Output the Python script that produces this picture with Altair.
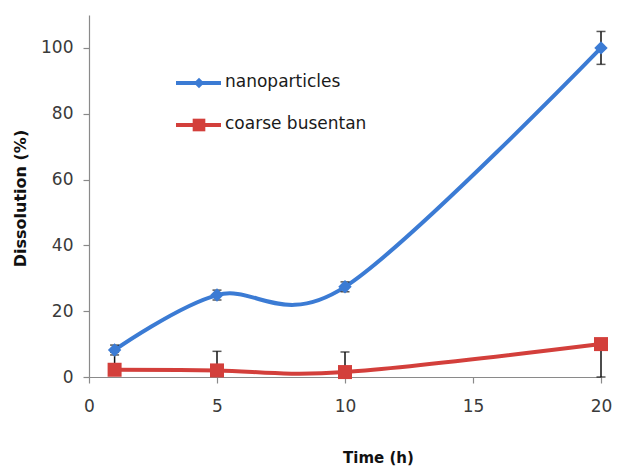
import altair as alt
import pandas as pd

# ---- data ----
time_h = [1, 5, 10, 20]
series_names = ["nanoparticles", "coarse busentan"]
nano_vals = [8.2, 24.9, 27.4, 100]
nano_err_lo = [6.7, 23.4, 25.9, 95]
nano_err_hi = [9.7, 26.4, 28.9, 105]
coarse_vals = [2.2, 2.0, 1.5, 10]
coarse_err_lo = [2.2, 2.0, 1.5, 0]
coarse_err_hi = [7.5, 7.8, 7.6, 10]
x_ticks = [0, 5, 10, 15, 20]
y_ticks = [0, 20, 40, 60, 80, 100]

colors = ["#3B7BD4", "#D33F3B"]
shapes = ["diamond", "square"]

rows = []
for i, t in enumerate(time_h):
    rows.append(dict(time=t, series=series_names[0], value=nano_vals[i],
                     lo=nano_err_lo[i], hi=nano_err_hi[i]))
for i, t in enumerate(time_h):
    rows.append(dict(time=t, series=series_names[1], value=coarse_vals[i],
                     lo=coarse_err_lo[i], hi=coarse_err_hi[i]))
df = pd.DataFrame(rows)

caps = []
for r in rows:
    if r["hi"] > r["value"]:
        caps.append(dict(time=r["time"], series=r["series"], cap=r["hi"]))
    if r["lo"] < r["value"]:
        caps.append(dict(time=r["time"], series=r["series"], cap=r["lo"]))
caps_df = pd.DataFrame(caps)

FONT = "DejaVu Sans"
AXC = "#8a8a8a"
xscale = alt.Scale(domain=[0, 20], nice=False, zero=False)
yscale = alt.Scale(domain=[0, 110], nice=False)
color_scale = alt.Scale(domain=series_names, range=colors)

common_axis = dict(grid=False, domainColor=AXC, tickColor=AXC, domainWidth=1.2,
                   tickWidth=1.2, tickSize=6, labelFont=FONT, labelFontSize=17,
                   labelColor="#3a3a3a", format="d", labelFlush=False,
                   labelOverlap=False)
x_axis = alt.Axis(values=x_ticks, title="Time (h)",
                  titleX=289, titleY=80, titleBaseline="middle",
                  titleFont=FONT, titleFontSize=15, titleFontWeight="bold",
                  titleColor="#111111", labelPadding=15, **common_axis)
y_axis = alt.Axis(values=y_ticks, title="Dissolution  (%)",
                  titleX=-69, titleY=183, titleBaseline="middle", titleAngle=270,
                  titleFont=FONT, titleFontSize=16, titleFontWeight="bold",
                  titleColor="#111111", labelPadding=10, **common_axis)

X = alt.X("time:Q", scale=xscale, axis=x_axis)
Y = alt.Y("value:Q", scale=yscale, axis=y_axis)

base = alt.Chart(df)

lines = base.mark_line(interpolate="cardinal", strokeWidth=4).encode(
    x=X, y=Y,
    color=alt.Color("series:N", scale=color_scale, legend=None),
    detail="series:N",
)

err_rules = base.mark_rule(color="#111111", strokeWidth=1.5).encode(
    x=alt.X("time:Q", scale=xscale),
    y=alt.Y("lo:Q", scale=yscale),
    y2="hi:Q",
)

err_caps = alt.Chart(caps_df).mark_tick(color="#111111", thickness=1.5, size=9,
                                        orient="horizontal").encode(
    x=alt.X("time:Q", scale=xscale),
    y=alt.Y("cap:Q", scale=yscale),
)

nano_pts = alt.Chart(df[df.series == series_names[0]]).mark_point(
    shape="diamond", filled=True, size=180, opacity=1, color=colors[0]
).encode(x=alt.X("time:Q", scale=xscale), y=alt.Y("value:Q", scale=yscale))

coarse_pts = alt.Chart(df[df.series == series_names[1]]).mark_point(
    shape="square", filled=True, size=196, opacity=1, color=colors[1]
).encode(x=alt.X("time:Q", scale=xscale), y=alt.Y("value:Q", scale=yscale))

# manual legend (line + marker + label), positioned in pixels inside plot
legend_layers = []
leg_y = [68, 110]
leg_sizes = [110, 160]
for i, name in enumerate(series_names):
    one = pd.DataFrame({"series": [name]})
    c = alt.Chart(one)
    legend_layers.append(c.mark_rule(color=colors[i], strokeWidth=4).encode(
        x=alt.value(87), x2=alt.value(132), y=alt.value(leg_y[i])))
    legend_layers.append(c.mark_point(shape=shapes[i], filled=True, opacity=1,
                                      size=leg_sizes[i], color=colors[i]).encode(
        x=alt.value(110), y=alt.value(leg_y[i])))
    legend_layers.append(c.mark_text(align="left", baseline="middle", font=FONT,
                                     fontSize=17, color="#1a1a1a").encode(
        x=alt.value(136), y=alt.value(leg_y[i] - 1), text="series:N"))

chart = alt.layer(lines, err_rules, err_caps, nano_pts, coarse_pts, *legend_layers).properties(
    width=512, height=362,
    background="white",
    autosize=alt.AutoSizeParams(type="none"),
    padding={"left": 81, "top": 7, "right": 11, "bottom": 89},
).configure_view(stroke=None)

chart.save("out.html", embed_options={"renderer": "svg", "actions": False})
